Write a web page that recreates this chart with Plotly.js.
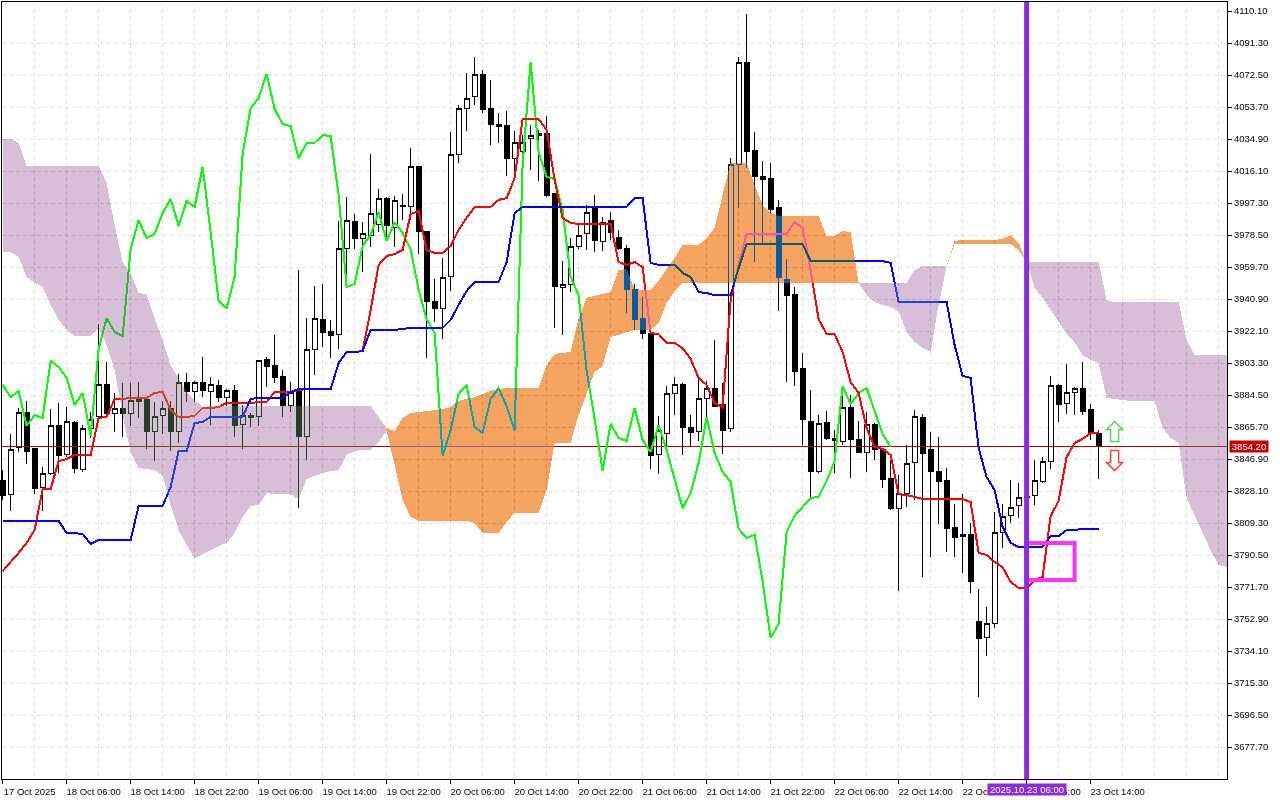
<!DOCTYPE html>
<html><head><meta charset="utf-8">
<script src="https://cdn.plot.ly/plotly-3.0.1.min.js"></script>
<style>
html,body{margin:0;padding:0;background:#fff}
#chart{width:1280px;height:800px}
/* The terminal paints its cloud as an inverting raster operation over what lies beneath */
.cartesianlayer g[clip-path]{clip-path:none !important}
.scatterlayer path.js-fill{mix-blend-mode:difference;shape-rendering:crispEdges}
.scatterlayer path.js-line{shape-rendering:crispEdges}
.boxlayer path{shape-rendering:crispEdges}
</style></head><body><div id="chart"></div>
<script>
const timeLabels=["17 Oct 2025","18 Oct 06:00","18 Oct 14:00","18 Oct 22:00","19 Oct 06:00","19 Oct 14:00","19 Oct 22:00","20 Oct 06:00","20 Oct 14:00","20 Oct 22:00","21 Oct 06:00","21 Oct 14:00","21 Oct 22:00","22 Oct 06:00","22 Oct 14:00","22 Oct 22:00","23 Oct 06:00","23 Oct 14:00"];
const priceTicks=[4110.1,4091.3,4072.5,4053.7,4034.9,4016.1,3997.3,3978.5,3959.7,3940.9,3922.1,3903.3,3884.5,3865.7,3846.9,3828.1,3809.3,3790.5,3771.7,3752.9,3734.1,3715.3,3696.5,3677.7];
const opens=[3834.0,3826.3,3853.4,3874.5,3852.8,3829.9,3838.1,3866.3,3849.3,3868.6,3841.0,3865.1,3871.6,3890.4,3873.9,3876.3,3873.9,3881.6,3881.6,3863.3,3872.7,3876.3,3863.3,3892.1,3886.3,3891.6,3886.3,3889.8,3883.3,3886.9,3866.9,3872.7,3871.6,3905.1,3901.6,3895.1,3878.6,3886.9,3860.4,3911.5,3929.1,3922.1,3919.8,3970.3,3986.7,3976.7,3978.5,3984.4,4000.2,3983.2,3996.1,3995.0,4018.5,3980.3,3939.7,3935.6,3954.4,4026.1,4053.1,4059.6,4073.1,4053.1,4043.7,4043.1,4023.7,4027.3,4035.5,4038.4,4038.4,4002.6,3947.4,3949.7,3971.5,3979.1,3994.4,3974.4,3987.3,3977.3,3970.3,3946.2,3929.7,3920.9,3849.8,3861.6,3885.1,3890.4,3865.7,3862.8,3882.2,3888.6,3879.2,3865.1,4020.2,4079.6,4027.9,4012.6,4012.0,3994.4,3952.6,3943.8,3899.8,3869.2,3839.8,3868.1,3859.2,3856.9,3876.9,3858.6,3851.0,3866.9,3852.2,3835.7,3818.1,3826.9,3845.1,3871.0,3852.2,3839.3,3834.0,3806.4,3801.1,3802.3,3751.7,3742.3,3750.0,3804.0,3814.0,3819.3,3824.0,3825.2,3833.4,3845.7,3889.8,3879.8,3885.7,3888.6,3875.7,3861.6];
const highs=[3840.4,3861.6,3876.9,3881.0,3852.8,3842.2,3876.3,3879.8,3877.4,3869.2,3866.9,3874.5,3926.2,3903.9,3885.7,3891.6,3891.6,3892.1,3881.6,3880.4,3881.0,3881.0,3896.8,3897.4,3892.7,3906.8,3895.1,3893.3,3888.0,3890.4,3878.6,3873.9,3905.1,3906.8,3919.8,3899.2,3892.1,3957.9,3929.7,3948.5,3949.7,3928.6,3986.7,4000.8,3990.8,3986.1,4026.1,4005.5,4000.8,4001.4,4002.6,4029.6,4018.5,3980.3,3952.6,3965.0,4039.0,4054.9,4073.7,4083.1,4075.4,4069.6,4050.2,4051.3,4039.6,4037.2,4043.1,4040.2,4048.4,4002.6,3963.2,3976.7,3985.6,3996.1,4002.0,3989.1,3992.0,3981.5,3972.6,3949.7,3942.1,3920.9,3872.2,3889.8,3895.1,3891.6,3872.7,3896.2,3892.7,3916.8,3891.6,4023.7,4083.1,4108.3,4039.0,4022.0,4020.8,3999.1,3964.4,3948.0,3909.2,3887.4,3872.7,3875.1,3863.9,3889.2,3884.5,3869.2,3874.5,3868.1,3853.4,3846.3,3837.5,3855.1,3875.7,3873.3,3862.8,3859.8,3841.6,3820.4,3826.3,3809.3,3770.5,3760.0,3815.8,3820.4,3834.6,3832.8,3834.6,3846.3,3848.1,3895.7,3890.9,3902.7,3889.2,3903.9,3879.2,3863.9];
const lows=[3822.8,3816.4,3851.0,3844.0,3826.3,3816.4,3837.5,3838.7,3848.1,3838.7,3839.3,3859.2,3869.8,3871.6,3862.8,3859.8,3866.3,3871.0,3852.8,3845.7,3861.6,3851.6,3856.3,3880.4,3880.4,3883.3,3866.9,3880.4,3878.0,3859.8,3852.8,3865.7,3866.3,3889.2,3891.6,3871.6,3874.5,3818.1,3846.3,3896.2,3912.7,3906.2,3911.5,3954.4,3970.3,3956.8,3971.5,3980.3,3975.6,3971.5,3987.3,3987.3,3967.3,3906.2,3927.4,3917.4,3945.6,4020.8,4039.6,4054.9,4050.2,4031.4,4032.6,4013.2,4010.2,4020.8,4016.7,4010.2,4000.8,3923.9,3919.8,3945.0,3970.3,3969.7,3968.5,3969.1,3975.6,3969.7,3932.7,3922.7,3917.4,3841.0,3838.1,3854.0,3872.7,3849.3,3854.5,3857.5,3871.0,3877.4,3849.8,3862.8,3994.4,4017.9,3962.6,3973.8,3991.4,3933.8,3892.1,3889.8,3855.1,3824.0,3838.7,3858.1,3838.7,3855.1,3835.7,3850.4,3839.3,3846.3,3829.9,3816.9,3769.3,3818.7,3822.8,3777.6,3789.3,3808.7,3792.3,3789.3,3779.9,3768.2,3707.1,3731.2,3747.6,3794.6,3809.3,3812.2,3816.9,3819.9,3832.8,3841.0,3868.6,3873.3,3872.7,3872.7,3858.1,3835.1];
const closes=[3825.2,3852.2,3874.5,3851.6,3829.3,3838.1,3866.3,3848.7,3869.2,3841.6,3865.1,3870.4,3890.4,3873.9,3876.3,3873.9,3881.0,3880.4,3863.3,3871.6,3876.3,3863.3,3892.1,3886.3,3891.6,3887.4,3890.4,3883.3,3886.9,3866.3,3872.7,3871.0,3904.5,3901.0,3894.5,3878.6,3885.7,3860.4,3911.5,3929.7,3921.5,3919.2,3970.3,3987.3,3976.7,3979.1,3991.4,3999.7,3983.8,3998.5,3995.0,4018.5,3980.3,3939.7,3935.6,3953.8,4026.1,4053.1,4059.0,4073.1,4052.5,4043.7,4042.5,4023.7,4032.6,4032.6,4037.2,4036.7,4002.0,3948.0,3949.7,3972.0,3978.5,3992.0,3975.0,3986.1,3979.7,3970.3,3946.2,3929.1,3920.9,3848.7,3863.9,3885.1,3890.4,3865.7,3862.2,3882.2,3888.6,3878.0,3863.9,4020.2,4080.1,4027.3,4012.6,4011.4,3993.2,3953.8,3943.2,3898.6,3870.4,3839.8,3867.5,3859.2,3857.5,3876.9,3858.1,3851.0,3866.9,3852.2,3835.1,3818.1,3826.9,3844.5,3871.6,3850.4,3839.3,3833.4,3805.8,3800.5,3802.3,3775.2,3741.7,3750.0,3804.0,3813.4,3818.7,3824.0,3824.6,3834.0,3845.7,3889.8,3879.2,3885.7,3888.6,3875.1,3861.6,3854.2];
const tenkan=[3781.1,3786.4,3791.7,3797.6,3805.2,3829.3,3829.3,3845.7,3846.9,3849.3,3849.3,3849.3,3871.0,3871.6,3882.2,3882.2,3882.8,3882.8,3882.8,3885.7,3886.3,3875.7,3871.6,3871.6,3872.2,3876.9,3876.9,3877.4,3879.8,3879.8,3879.8,3879.8,3880.4,3880.4,3886.3,3886.3,3886.3,3887.4,3888.0,3888.0,3888.0,3888.0,3903.3,3909.8,3909.8,3910.3,3934.4,3960.9,3966.2,3967.3,3969.7,3990.8,3992.6,3969.7,3968.0,3968.0,3972.0,3981.5,3988.5,3995.0,3995.0,3995.0,3999.1,4000.2,4012.0,4046.6,4046.6,4046.6,4040.2,4010.8,3988.5,3985.6,3985.0,3985.0,3985.0,3985.0,3985.0,3962.6,3960.9,3962.6,3959.7,3920.9,3920.3,3915.0,3915.0,3912.1,3905.7,3894.5,3890.4,3879.8,3877.4,3940.3,3960.9,3979.1,3979.1,3979.1,3979.1,3979.1,3979.1,3986.1,3982.6,3957.9,3929.1,3920.3,3920.3,3909.8,3892.1,3885.7,3865.1,3854.0,3852.8,3849.3,3826.3,3825.7,3824.6,3823.4,3823.4,3823.4,3823.4,3823.4,3823.4,3821.6,3791.7,3790.5,3786.4,3783.4,3774.6,3771.1,3771.1,3775.8,3777.6,3813.4,3822.2,3848.1,3856.3,3858.7,3862.2,3862.2];
const kijun=[3810.5,3810.5,3810.5,3810.5,3810.5,3810.5,3810.5,3810.5,3803.4,3803.4,3802.8,3797.0,3799.3,3799.3,3799.3,3799.3,3799.3,3819.3,3819.3,3819.3,3819.3,3830.4,3851.6,3851.6,3868.1,3868.6,3871.6,3871.6,3871.6,3871.6,3871.6,3882.2,3882.8,3882.8,3882.8,3882.8,3886.3,3888.0,3888.0,3888.0,3888.0,3888.0,3903.3,3909.8,3909.8,3910.3,3922.7,3922.7,3922.7,3922.7,3923.3,3923.9,3923.9,3923.9,3923.9,3923.9,3928.6,3937.4,3945.6,3950.9,3950.9,3950.9,3950.9,3962.6,3991.4,3995.0,3995.0,3995.0,3995.0,3995.0,3995.0,3995.0,3995.0,3995.0,3995.0,3995.0,3995.0,3995.0,3995.0,4000.2,4000.2,3962.1,3960.9,3960.9,3960.9,3956.2,3953.8,3945.0,3944.4,3943.2,3943.2,3943.2,3959.1,3973.2,3973.2,3973.2,3973.2,3973.2,3973.2,3973.2,3973.2,3963.2,3963.2,3963.2,3963.2,3963.2,3963.2,3963.2,3963.2,3963.2,3963.2,3962.1,3939.1,3939.1,3939.1,3939.1,3939.1,3939.1,3939.1,3913.9,3895.7,3894.5,3853.4,3836.3,3828.7,3807.0,3797.6,3795.2,3795.2,3795.2,3795.2,3801.7,3801.7,3805.2,3805.2,3805.8,3805.8,3805.8];
const chikou=[3890.4,3883.3,3886.9,3866.3,3872.7,3871.0,3904.5,3901.0,3894.5,3878.6,3885.7,3860.4,3911.5,3929.7,3921.5,3919.2,3970.3,3987.3,3976.7,3979.1,3991.4,3999.7,3983.8,3998.5,3995.0,4018.5,3980.3,3939.7,3935.6,3953.8,4026.1,4053.1,4059.0,4073.1,4052.5,4043.7,4042.5,4023.7,4032.6,4032.6,4037.2,4036.7,4002.0,3948.0,3949.7,3972.0,3978.5,3992.0,3975.0,3986.1,3979.7,3970.3,3946.2,3929.1,3920.9,3848.7,3863.9,3885.1,3890.4,3865.7,3862.2,3882.2,3888.6,3878.0,3863.9,4020.2,4080.1,4027.3,4012.6,4011.4,3993.2,3953.8,3943.2,3898.6,3870.4,3839.8,3867.5,3859.2,3857.5,3876.9,3858.1,3851.0,3866.9,3852.2,3835.1,3818.1,3826.9,3844.5,3871.6,3850.4,3839.3,3833.4,3805.8,3800.5,3802.3,3775.2,3741.7,3750.0,3804.0,3813.4,3818.7,3824.0,3824.6,3834.0,3845.7,3889.8,3879.2,3885.7,3888.6,3875.1,3861.6,3854.2];
const cloud1Upper=[4034.9,4034.9,4032.6,4019.0,4019.0,4019.0,4019.0,4019.0,4019.0,4019.0,4019.0,4019.0,4019.0,4009.0,3984.4,3962.6,3956.2,3944.4,3943.8,3929.7,3916.8,3902.1,3894.5,3886.3,3881.6,3877.4,3878.0,3878.0,3878.0,3878.0,3878.0,3878.0,3878.0,3878.0,3878.0,3878.0,3878.0,3878.0,3878.0,3878.0,3878.0,3878.0,3878.0,3878.0,3878.0,3878.0,3878.0,3871.6,3865.1];
const cloud1Lower=[3968.5,3968.5,3965.6,3953.8,3950.3,3948.0,3937.4,3928.6,3922.7,3919.2,3919.2,3919.2,3923.9,3913.9,3899.2,3872.7,3851.0,3841.6,3841.0,3840.4,3836.9,3819.9,3805.2,3796.4,3788.7,3791.1,3793.4,3795.8,3797.6,3803.4,3812.8,3819.3,3819.9,3826.9,3826.3,3826.3,3826.3,3822.8,3835.1,3836.9,3838.7,3839.8,3840.4,3849.3,3851.6,3852.2,3852.2,3856.9,3863.3];
const cloud2Upper=[3865.1,3863.3,3871.0,3873.9,3874.5,3875.1,3875.7,3876.3,3877.4,3881.0,3882.2,3883.3,3885.1,3886.9,3888.0,3888.6,3888.6,3888.6,3888.6,3888.6,3902.1,3908.6,3909.2,3909.8,3929.7,3941.5,3942.7,3943.8,3945.0,3957.9,3958.5,3946.8,3946.2,3946.2,3951.5,3958.5,3965.0,3972.6,3972.6,3972.6,3976.7,3982.6,4002.0,4020.8,4020.8,4020.8,4007.9,3996.1,3991.4,3989.7,3989.7,3989.7,3989.7,3989.7,3989.7,3978.0,3978.0,3980.8,3980.3,3950.3];
const cloud2Lower=[3863.3,3843.4,3822.8,3812.8,3810.5,3810.5,3810.5,3810.5,3810.5,3810.5,3810.5,3809.3,3803.4,3803.4,3803.4,3809.9,3815.2,3815.2,3815.2,3815.2,3828.7,3856.3,3856.3,3856.3,3872.7,3885.7,3898.0,3901.6,3918.6,3919.8,3921.5,3922.7,3922.7,3922.7,3926.8,3938.6,3945.6,3950.3,3950.3,3950.3,3950.3,3950.3,3950.3,3950.3,3950.3,3950.3,3950.3,3950.3,3950.3,3950.3,3950.3,3950.3,3950.3,3950.3,3950.3,3950.3,3950.3,3950.3,3950.3,3950.3];
const cloud3Upper=[3950.3,3950.3,3950.3,3950.3,3950.3,3950.3,3950.3,3957.9,3960.3,3960.3,3960.3,3960.3];
const cloud3Lower=[3950.3,3943.2,3939.1,3937.4,3936.2,3933.8,3921.5,3915.6,3912.1,3909.8,3937.4,3960.3];
const cloud4Upper=[3960.3,3975.0,3975.6,3975.6,3975.6,3975.6,3975.6,3976.2,3978.5,3973.8,3962.6];
const cloud4Lower=[3960.3,3973.2,3973.2,3973.2,3973.2,3973.2,3973.2,3973.2,3973.2,3969.7,3962.6];
const cloud5Upper=[3962.6,3962.6,3962.6,3962.6,3962.6,3962.6,3962.6,3962.6,3962.6,3962.6,3940.3,3939.1,3939.1,3939.1,3939.1,3939.1,3939.1,3939.1,3939.1,3939.1,3916.8,3908.0,3908.0,3908.0,3908.0,3908.0];
const cloud5Lower=[3962.6,3947.4,3941.5,3934.4,3927.4,3920.3,3915.6,3908.0,3905.1,3903.3,3882.8,3882.2,3881.6,3881.0,3881.0,3881.0,3881.0,3865.1,3859.2,3856.3,3824.0,3813.4,3803.4,3793.4,3784.6,3783.5];
const lastPrice=3854.2;

const bars=opens.map((_,i)=>i);
const xMin=-0.08,xMax=153.05;
const INK='#000000',THISTLE_INV='#274027',SANDY_INV='#0B5B9F',GRID='#e2e2e2';
function band(start,up,lo,inv){
  const xs=up.map((_,i)=>start+i);
  return {type:'scatter',mode:'lines',x:xs.concat(xs.slice().reverse()),y:up.concat(lo.slice().reverse()),
    fill:'toself',fillcolor:inv,line:{width:0,color:inv},hoverinfo:'skip',showlegend:false};
}
function ln(x,y,c,w){return {type:'scatter',mode:'lines',x:x,y:y,line:{color:c,width:w,simplify:false},hoverinfo:'skip',showlegend:false};}
const traces=[
 {type:'candlestick',x:bars,open:opens,high:highs,low:lows,close:closes,whiskerwidth:0,
  increasing:{line:{color:INK,width:1},fillcolor:'#ffffff'},decreasing:{line:{color:INK,width:1},fillcolor:'#000000'},hoverinfo:'skip',showlegend:false},
 ln([xMin,xMax],[lastPrice,lastPrice],'#b00000',1),
 ln(chikou.map((_,i)=>i),chikou,'#00ff00',2),
 ln(bars,tenkan,'#ff0000',2),
 ln(bars,kijun,'#0000ff',2),
 band(0,cloud1Upper,cloud1Lower,THISTLE_INV),
 band(48,cloud2Upper,cloud2Lower,SANDY_INV),
 band(107,cloud3Upper,cloud3Lower,THISTLE_INV),
 band(118,cloud4Upper,cloud4Lower,SANDY_INV),
 band(128,cloud5Upper,cloud5Lower,THISTLE_INV)
];
const FONT={family:'"Liberation Sans",Arial,sans-serif',size:9.5,color:'#000'};
const gridBars=[];for(let b=0;b<=152;b+=4)gridBars.push(b);
const layout={
 width:1280,height:800,autosize:false,paper_bgcolor:'#fff',plot_bgcolor:'#fff',showlegend:false,
 margin:{l:2,r:53,t:2,b:21,pad:0},boxgap:0.35,boxgroupgap:0,dragmode:false,hovermode:false,
 xaxis:{type:'linear',range:[xMin,xMax],rangeslider:{visible:false},tickmode:'array',tickvals:timeLabels.map((_,k)=>k*8),ticktext:timeLabels,
  ticks:'outside',ticklen:4,tickwidth:1,tickcolor:INK,tickfont:FONT,ticklabelshift:27,ticklabelstandoff:0,tickangle:0,
  showline:true,linecolor:INK,linewidth:1,mirror:true,showgrid:false,zeroline:false,
  minor:{tickmode:'array',tickvals:gridBars,ticks:'',showgrid:true,gridcolor:GRID,griddash:'4px,3px',gridwidth:1}},
 yaxis:{side:'right',range:[3658.9,4115.4],tickmode:'array',tickvals:priceTicks,ticktext:priceTicks.map(v=>v.toFixed(2)),
  ticks:'outside',ticklen:4,tickwidth:1,tickcolor:INK,tickfont:FONT,
  showline:true,linecolor:INK,linewidth:1,mirror:true,showgrid:false,zeroline:false,
  minor:{tickmode:'array',tickvals:priceTicks.slice(1),ticks:'',showgrid:true,gridcolor:GRID,griddash:'4px,3px',gridwidth:1}},
 shapes:[
  {type:'rect',layer:'between',xref:'paper',yref:'paper',x0:0.0005,x1:0.9995,y0:0.969,y1:0.999,fillcolor:'#fff',line:{width:0}},
  {type:'rect',layer:'above',xref:'x',yref:'y',x0:128,x1:134,y0:3775.8,y1:3797.6,line:{color:'#ff33ff',width:4},fillcolor:'rgba(0,0,0,0)'},
  {type:'line',layer:'above',xref:'x',yref:'paper',x0:128,x1:128,y0:0,y1:1,line:{color:'#8a2be2',width:5}},
  {type:'path',layer:'above',xref:'x',yref:'y',xsizemode:'pixel',ysizemode:'pixel',xanchor:139,yanchor:lastPrice,
   path:'M0,25 L8,17 L4,17 L4,5 L-4,5 L-4,17 L-8,17 Z',line:{color:'#4fd94f',width:1.5},fillcolor:'#fff'},
  {type:'path',layer:'above',xref:'x',yref:'y',xsizemode:'pixel',ysizemode:'pixel',xanchor:139,yanchor:lastPrice,
   path:'M0,-24 L8,-16 L4,-16 L4,-4 L-4,-4 L-4,-16 L-8,-16 Z',line:{color:'#f04040',width:1.5},fillcolor:'#fff'}
 ],
 annotations:[
  {xref:'paper',yref:'y',x:1,y:lastPrice,xanchor:'left',yanchor:'middle',xshift:2,text:'3854.20',showarrow:false,bgcolor:'#c40000',font:{family:FONT.family,size:9.5,color:'#fff'},width:38,height:11,borderpad:0},
  {xref:'x',yref:'paper',x:128,y:0,xanchor:'center',yanchor:'top',yshift:-4,text:'2025.10.23 06:00',showarrow:false,bgcolor:'#8a2be2',font:{family:FONT.family,size:9.5,color:'#fff'},width:78,height:11,borderpad:0}
 ]
};
Plotly.newPlot('chart',traces,layout,{staticPlot:true,displayModeBar:false});
</script></body></html>
